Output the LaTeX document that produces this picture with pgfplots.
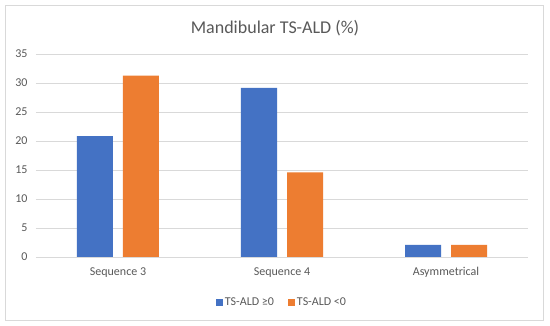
\documentclass[border=0pt]{standalone}
\usepackage{pgfplots}
\pgfplotsset{compat=1.18}
\usepackage{fontspec}
\setmainfont{Carlito}
\definecolor{sblue}{HTML}{4472C4}
\definecolor{sorange}{HTML}{ED7D31}
\definecolor{txt}{HTML}{595959}
\definecolor{grd}{HTML}{D9D9D9}
\begin{document}
\begin{tikzpicture}[x=1pt,y=1pt]
\path[use as bounding box] (0,0) rectangle (550,326);
\draw[grd, line width=0.8pt, fill=white] (5,6) rectangle (543,321);
\node[text=txt, font=\fontsize{18}{21}\selectfont] at (275,298) {Mandibular TS-ALD (\%)};
\begin{axis}[
  at={(36pt,69pt)}, anchor=south west,
  scale only axis, width=492pt, height=203pt,
  ymin=0, ymax=35, xmin=-0.5, xmax=2.5,
  ytick={0,5,...,35},
  xtick={0,1,2},
  xticklabels={Sequence 3,Sequence 4,Asymmetrical},
  ymajorgrids, grid style={grd, line width=0.8pt},
  axis line style={draw=none},
  major tick length=0pt,
  ybar=10pt, bar width=36pt,
  tick label style={text=txt, font=\fontsize{12}{14}\selectfont},
  /pgf/number format/assume math mode=true,
  yticklabel style={xshift=-5pt},
  xticklabel style={yshift=-7pt},
  legend style={at={(0.5,-0.222)}, anchor=center, draw=none, fill=none,
    legend columns=2, text=txt, font=\fontsize{12}{14}\selectfont,
    /tikz/every even column/.append style={column sep=12pt}},
]
\addplot[fill=sblue, draw=none,
  legend image code/.code={\fill[sblue] (0pt,-3.5pt) rectangle (7pt,3.5pt);}]
  coordinates {(0,20.83) (1,29.17) (2,2.08)};
\addlegendentry{TS-ALD ≥0}
\addplot[fill=sorange, draw=none,
  legend image code/.code={\fill[sorange] (0pt,-3.5pt) rectangle (7pt,3.5pt);}]
  coordinates {(0,31.25) (1,14.58) (2,2.08)};
\addlegendentry{TS-ALD <0}
\end{axis}
\end{tikzpicture}
\end{document}
